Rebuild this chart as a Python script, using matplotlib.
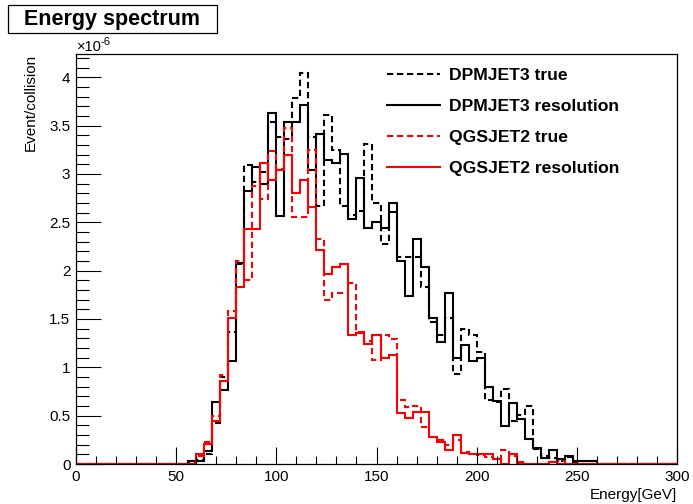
import numpy as np
import matplotlib
matplotlib.use("Agg")
import matplotlib.pyplot as plt
from matplotlib.ticker import MultipleLocator, FuncFormatter
from matplotlib.lines import Line2D
from matplotlib.patches import Rectangle

plt.rcParams['font.family'] = ['Liberation Sans', 'DejaVu Sans']

# ---- data (values in units of 1e-6), 4 GeV bins starting at 56 GeV ----
bin_width = 4
first_edge = 56
dpm_true = [0.02, 0.04, 0.10, 0.42, 0.90, 1.36, 2.07, 3.09, 2.92, 3.02,
            3.54, 3.38, 3.36, 3.78, 4.04, 3.38, 2.67, 3.61, 3.25, 2.67,
            2.57, 2.62, 3.31, 2.70, 2.27, 2.61, 2.14, 2.14, 2.14, 1.83,
            1.47, 1.33, 1.51, 0.93, 1.40, 1.33, 1.16, 0.66, 0.64, 0.78,
            0.44, 0.51, 0.60, 0.16, 0.08, 0.06, 0.03, 0.07, 0.02, 0.0, 0.0]
dpm_res = [0.03, 0.03, 0.13, 0.64, 0.77, 1.07, 2.08, 2.82, 3.07, 2.90,
           3.63, 2.56, 3.54, 3.54, 3.71, 3.04, 3.41, 3.14, 3.11, 3.21,
           2.53, 2.96, 2.44, 2.50, 2.44, 2.70, 2.10, 1.74, 2.33, 2.04,
           1.51, 1.26, 1.77, 1.10, 1.23, 1.07, 1.10, 0.80, 0.65, 0.39,
           0.63, 0.47, 0.26, 0.17, 0.06, 0.14, 0.05, 0.08, 0.03, 0.03, 0.03]
qgs_true = [0.0, 0.08, 0.23, 0.50, 0.92, 1.58, 2.10, 1.90, 2.87, 2.74,
            3.24, 3.05, 3.47, 2.55, 2.55, 3.25, 2.33, 1.70, 1.77, 1.77,
            1.87, 1.37, 1.27, 1.08, 1.33, 1.29, 0.66, 0.59, 0.60, 0.38,
            0.28, 0.25, 0.20, 0.25, 0.12, 0.10, 0.09, 0.07, 0.05, 0.14,
            0.08, 0.02, 0.0, 0.0, 0.0, 0.02, 0.03, 0.0, 0.0, 0.0, 0.0]
qgs_res = [0.0, 0.10, 0.21, 0.44, 0.86, 1.51, 1.83, 2.43, 2.43, 3.11,
           2.94, 3.04, 3.20, 2.80, 2.94, 2.66, 2.21, 1.96, 2.04, 2.07,
           1.33, 1.35, 1.24, 1.33, 1.10, 1.13, 0.53, 0.48, 0.54, 0.54,
           0.28, 0.23, 0.14, 0.30, 0.11, 0.10, 0.10, 0.10, 0.05, 0.0,
           0.10, 0.0, 0.0, 0.0, 0.0, 0.02, 0.0, 0.0, 0.0, 0.0, 0.0]
labels = ["DPMJET3 true", "DPMJET3 resolution", "QGSJET2 true", "QGSJET2 resolution"]

x_min, x_max = 0, 300
edges = np.arange(x_min, x_max + bin_width, bin_width)
nb = len(edges) - 1
i0 = (first_edge - x_min) // bin_width


def full(vals):
    arr = np.zeros(nb)
    arr[i0:i0 + len(vals)] = vals
    return arr * 1e-6


W, H = 693, 504
fig = plt.figure(figsize=(W / 100, H / 100), dpi=100)
L, R, T, B = 76, 677, 54, 464
ax = fig.add_axes([L / W, 1 - B / H, (R - L) / W, (B - T) / H])

lw = 1.5
dash = (3.0, 1.8)
series = [(dpm_true, 'black', dash), (dpm_res, 'black', None),
          (qgs_true, 'red', dash), (qgs_res, 'red', None)]
for (vals, col, ds), lab in zip(series, labels):
    st = ax.stairs(full(vals), edges, baseline=None, color=col, linewidth=lw,
                   label=lab)
    if ds is not None:
        st.set_linestyle((0, ds))

ax.set_xlim(x_min, x_max)
ax.set_ylim(0, (B - T) / 96.7 * 1e-6)

ax.xaxis.set_major_locator(MultipleLocator(50))
ax.xaxis.set_minor_locator(MultipleLocator(10))
ax.yaxis.set_major_locator(MultipleLocator(0.5e-6))
ax.yaxis.set_minor_locator(MultipleLocator(0.1e-6))
ax.yaxis.set_major_formatter(FuncFormatter(lambda v, p: f"{v * 1e6:g}"))
ax.tick_params(which='both', direction='in', top=False, right=False,
               labelsize=11, width=0.8, pad=4)
ax.tick_params(which='major', axis='x', length=12)
ax.tick_params(which='minor', axis='x', length=6)
ax.tick_params(which='major', axis='y', length=18)
ax.tick_params(which='minor', axis='y', length=9)
for s in ax.spines.values():
    s.set_linewidth(0.9)

# exponent label
fig.text(77 / W, 1 - 51 / H, "\u00d710", fontsize=10.5, ha='left', va='baseline')
fig.text(101 / W, 1 - 45 / H, "-6", fontsize=8, ha='left', va='baseline')

ax.set_xlabel("Energy[GeV]", fontsize=11, loc='right', labelpad=3)
ax.yaxis.set_label_coords(-(76 - 38) / (R - L), 1 - 4 / (B - T))
ax.set_ylabel("Event/collision", fontsize=11, loc='top', va='center')
ax.yaxis.label.set_va('bottom')

# title box
fig.patches.append(Rectangle((8 / W, 1 - 33 / H), (217 - 8) / W, (33 - 5) / H,
                             transform=fig.transFigure, facecolor='white',
                             edgecolor='black', linewidth=0.9))
fig.text(112 / W, 1 - 19.5 / H, "Energy spectrum", fontsize=15.5,
         fontweight='bold', ha='center', va='center')

# legend
leg_handles = [Line2D([], [], color='black', lw=lw, linestyle=(0, dash)),
               Line2D([], [], color='black', lw=lw),
               Line2D([], [], color='red', lw=lw, linestyle=(0, dash)),
               Line2D([], [], color='red', lw=lw)]
fig.legend(leg_handles, labels, loc='upper left',
           bbox_to_anchor=(380 / W, 1 - 61 / H), frameon=False,
           prop={'weight': 'bold', 'size': 12.6}, handlelength=3.0,
           handletextpad=0.55, labelspacing=0.9, borderaxespad=0)

fig.savefig("out.png", dpi=100)
